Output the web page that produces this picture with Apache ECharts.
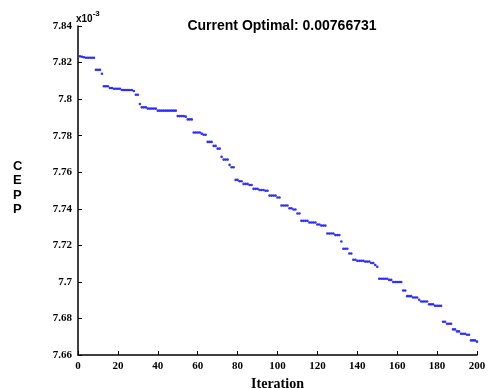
<!DOCTYPE html>
<html>
<head>
<meta charset="utf-8">
<script src="https://cdn.jsdelivr.net/npm/echarts@6/dist/echarts.min.js"></script>
<style>
  html, body { margin: 0; padding: 0; background: #fff; }
  #chart { width: 495px; height: 388px; }
</style>
</head>
<body>
<div id="chart"></div>
<script>
// best CEPP found so far at each iteration (x 10^-3)
const cepp = [
  7.8234, 7.8232, 7.8229, 7.8226, 7.8226, 7.8226, 7.8226, 7.8226, 7.8160, 7.8160,
  7.8160, 7.8139, 7.8070, 7.8070, 7.8070, 7.8061, 7.8061, 7.8057, 7.8057, 7.8057,
  7.8057, 7.8050, 7.8050, 7.8050, 7.8050, 7.8050, 7.8050, 7.8044, 7.8024, 7.8024,
  7.7973, 7.7955, 7.7955, 7.7955, 7.7948, 7.7948, 7.7948, 7.7948, 7.7948, 7.7937,
  7.7937, 7.7937, 7.7937, 7.7937, 7.7937, 7.7937, 7.7937, 7.7937, 7.7937, 7.7907,
  7.7907, 7.7907, 7.7907, 7.7904, 7.7889, 7.7889, 7.7889, 7.7817, 7.7817, 7.7817,
  7.7817, 7.7811, 7.7805, 7.7805, 7.7766, 7.7766, 7.7766, 7.7744, 7.7744, 7.7729,
  7.7729, 7.7684, 7.7669, 7.7669, 7.7669, 7.7640, 7.7627, 7.7627, 7.7558, 7.7558,
  7.7551, 7.7551, 7.7536, 7.7536, 7.7536, 7.7530, 7.7530, 7.7509, 7.7509, 7.7509,
  7.7503, 7.7503, 7.7503, 7.7499, 7.7499, 7.7472, 7.7472, 7.7472, 7.7472, 7.7462,
  7.7462, 7.7418, 7.7418, 7.7418, 7.7418, 7.7403, 7.7403, 7.7396, 7.7396, 7.7374,
  7.7374, 7.7334, 7.7334, 7.7334, 7.7334, 7.7325, 7.7325, 7.7325, 7.7325, 7.7314,
  7.7314, 7.7308, 7.7308, 7.7308, 7.7265, 7.7265, 7.7265, 7.7265, 7.7256, 7.7256,
  7.7256, 7.7221, 7.7181, 7.7181, 7.7181, 7.7155, 7.7155, 7.7121, 7.7121, 7.7115,
  7.7115, 7.7115, 7.7115, 7.7111, 7.7111, 7.7111, 7.7103, 7.7103, 7.7092, 7.7083,
  7.7017, 7.7017, 7.7017, 7.7017, 7.7017, 7.7011, 7.7011, 7.6999, 7.6999, 7.6999,
  7.6999, 7.6999, 7.6953, 7.6953, 7.6922, 7.6922, 7.6922, 7.6915, 7.6915, 7.6915,
  7.6902, 7.6893, 7.6893, 7.6893, 7.6893, 7.6877, 7.6877, 7.6877, 7.6869, 7.6869,
  7.6869, 7.6869, 7.6782, 7.6782, 7.6771, 7.6771, 7.6771, 7.6740, 7.6740, 7.6729,
  7.6729, 7.6716, 7.6716, 7.6716, 7.6711, 7.6711, 7.6680, 7.6680, 7.6680, 7.6673
];
const firstIteration = 1;
const yTicks = [7.66, 7.68, 7.7, 7.72, 7.74, 7.76, 7.78, 7.8, 7.82, 7.84];
const xTicks = [0, 20, 40, 60, 80, 100, 120, 140, 160, 180, 200];
const titleText = 'Current Optimal: 0.00766731';

const points = cepp.map((v, i) => [firstIteration + i, v]);

const serif = '"Liberation Serif", "Times New Roman", serif';
const sans = '"Liberation Sans", Arial, sans-serif';

const chart = echarts.init(document.getElementById('chart'));
chart.setOption({
  animation: false,
  backgroundColor: '#fff',
  title: {
    text: titleText,
    left: 277, top: 14,
    textAlign: 'center',
    textStyle: { fontFamily: sans, fontWeight: 'bold', fontSize: 14, color: '#000' }
  },
  grid: { left: 78, right: 18, top: 26, bottom: 33, outerBoundsMode: 'none', containLabel: false },
  xAxis: {
    type: 'value',
    min: xTicks[0], max: xTicks[xTicks.length - 1], interval: 20,
    name: 'Iteration',
    nameLocation: 'middle',
    nameGap: 20,
    nameTextStyle: { fontFamily: serif, fontWeight: 'bold', fontSize: 14, color: '#000' },
    axisLine: { lineStyle: { color: '#000', width: 1.5 } },
    axisTick: { inside: true, length: 4, lineStyle: { color: '#000', width: 1 } },
    axisLabel: { fontFamily: serif, fontWeight: 'bold', fontSize: 11, color: '#000', margin: 6 },
    splitLine: { show: false }
  },
  yAxis: {
    type: 'value',
    min: yTicks[0], max: yTicks[yTicks.length - 1], interval: 0.02,
    axisLine: { show: true, lineStyle: { color: '#000', width: 1.5 } },
    axisTick: { show: true, inside: true, length: 4, lineStyle: { color: '#000', width: 1 } },
    axisLabel: {
      fontFamily: serif, fontWeight: 'bold', fontSize: 11, color: '#000', margin: 6,
      formatter: v => String(Number(v.toFixed(2)))
    },
    splitLine: { show: false }
  },
  graphic: [
    {
      type: 'text', left: 76, top: 10,
      style: {
        text: '{a|x10}{b|-3}',
        rich: {
          a: { fontFamily: sans, fontWeight: 'bold', fontSize: 10, color: '#000', verticalAlign: 'bottom', padding: [4, 0, 0, 0] },
          b: { fontFamily: sans, fontWeight: 'bold', fontSize: 8, color: '#000', verticalAlign: 'top' }
        }
      }
    },
    {
      type: 'text', left: 13, top: 159,
      style: {
        text: 'C\nE\nP\nP',
        fontFamily: sans, fontWeight: 'bold', fontSize: 13, lineHeight: 14.5,
        fill: '#000', align: 'center'
      }
    }
  ],
  series: [{
    type: 'scatter',
    data: points,
    symbol: 'circle',
    symbolSize: 2.6,
    itemStyle: { color: '#0000ff' },
    emphasis: { disabled: true }
  }]
});
</script>
</body>
</html>
